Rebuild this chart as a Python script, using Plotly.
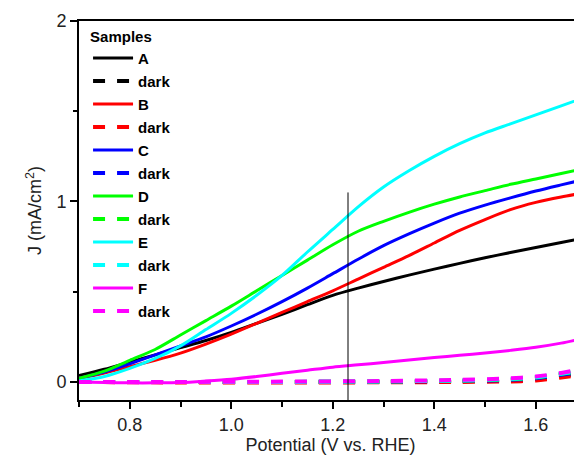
import plotly.graph_objects as go

# ---- data ----
potential = [0.70, 0.75, 0.80, 0.85, 0.90, 0.95, 1.00, 1.05, 1.10, 1.15, 1.20,
             1.25, 1.30, 1.35, 1.40, 1.45, 1.50, 1.55, 1.60, 1.65, 1.70]
j_A = [0.035, 0.07, 0.11, 0.15, 0.19, 0.23, 0.275, 0.325, 0.375, 0.428, 0.48,
       0.52, 0.557, 0.592, 0.625, 0.657, 0.688, 0.717, 0.745, 0.773, 0.80]
j_B = [0.02, 0.05, 0.085, 0.12, 0.16, 0.21, 0.265, 0.325, 0.385, 0.445, 0.505,
       0.57, 0.635, 0.70, 0.77, 0.84, 0.90, 0.955, 0.995, 1.025, 1.05]
j_C = [0.02, 0.055, 0.10, 0.15, 0.20, 0.25, 0.31, 0.375, 0.445, 0.52, 0.60,
       0.68, 0.755, 0.82, 0.88, 0.935, 0.98, 1.02, 1.058, 1.092, 1.125]
j_D = [0.02, 0.06, 0.12, 0.18, 0.26, 0.34, 0.42, 0.505, 0.59, 0.675, 0.76,
       0.835, 0.89, 0.94, 0.985, 1.025, 1.06, 1.095, 1.125, 1.155, 1.185]
j_E = [0.005, 0.03, 0.075, 0.13, 0.20, 0.29, 0.38, 0.48, 0.59, 0.72, 0.845,
       0.97, 1.08, 1.17, 1.25, 1.32, 1.38, 1.43, 1.48, 1.53, 1.58]
j_F = [0.0, -0.003, -0.005, -0.005, -0.003, 0.005, 0.015, 0.03, 0.048, 0.065, 0.082,
       0.095, 0.108, 0.122, 0.135, 0.148, 0.16, 0.175, 0.192, 0.215, 0.245]

v_dark = [0.70, 0.90, 1.10, 1.30, 1.45, 1.55, 1.60, 1.65, 1.69]
d_A = [0.0, 0.0, 0.0, 0.0, 0.004, 0.01, 0.018, 0.033, 0.048]
d_B = [0.0, -0.003, -0.003, -0.002, 0.0, 0.003, 0.008, 0.025, 0.04]
d_C = [0.0, 0.0, 0.0, 0.002, 0.006, 0.012, 0.02, 0.04, 0.055]
d_D = [0.0, 0.0, 0.0, 0.003, 0.008, 0.015, 0.025, 0.045, 0.06]
d_E = [0.0, 0.0, 0.0, 0.003, 0.008, 0.016, 0.026, 0.046, 0.062]
d_F = [0.0, 0.0, 0.002, 0.005, 0.012, 0.02, 0.03, 0.05, 0.07]

sample_names = ["A", "B", "C", "D", "E", "F"]
sample_colors = ["#000000", "#ff0000", "#0000ff", "#00ff00", "#00ffff", "#ff00ff"]
light_y = [j_A, j_B, j_C, j_D, j_E, j_F]
dark_y = [d_A, d_B, d_C, d_D, d_E, d_F]

ref_potential = 1.23
ref_top = 1.05
x_range = [0.7, 1.691]
y_range = [-0.1, 2.0]

fig = go.Figure()
for i, (name, col) in enumerate(zip(sample_names, sample_colors)):
    fig.add_trace(go.Scatter(
        x=potential, y=light_y[i], mode="lines", name=name,
        line=dict(color=col, width=3, shape="spline", smoothing=0.8),
        legendgroup=f"g{2*i}"))
    fig.add_trace(go.Scatter(
        x=v_dark, y=dark_y[i], mode="lines", name="dark",
        line=dict(color=col, width=4, dash="12px,12px", shape="spline", smoothing=0.8),
        legendgroup=f"g{2*i+1}"))

fig.add_shape(type="line", xref="x", yref="y",
              x0=ref_potential, x1=ref_potential, y0=y_range[0], y1=ref_top,
              line=dict(color="#000000", width=1))

axis_font = dict(family="Liberation Sans, Arial, sans-serif", size=18, color="#222222")
legend_font = dict(family="Liberation Sans, Arial, sans-serif", size=15, color="#000000", weight="bold")

# page body has an 8px default margin, so the figure is offset by 8px
fig.update_layout(
    width=574, height=454,
    margin=dict(l=71, r=0, t=13, b=62, autoexpand=False),
    plot_bgcolor="white", paper_bgcolor="white",
    font=dict(family="Liberation Sans, Arial, sans-serif", color="#000000"),
    showlegend=True,
    legend=dict(
        x=0.018, y=0.997, xanchor="left", yanchor="top",
        bgcolor="rgba(0,0,0,0)",
        font=legend_font,
        title=dict(text="Samples", font=legend_font),
        tracegroupgap=0.5,
        itemwidth=40,
    ),
    xaxis=dict(
        range=x_range, showline=True, linecolor="#000000", linewidth=2, mirror=True,
        automargin=False,
        ticks="outside", ticklen=7, tickwidth=1.5, tickcolor="#000000",
        tick0=0.8, dtick=0.2, tickformat=".1f",
        minor=dict(dtick=0.1, tick0=0.7, ticks="outside", ticklen=5, tickwidth=1.5, tickcolor="#000000"),
        showgrid=False, zeroline=False,
        tickfont=axis_font,
        title=dict(text="Potential (V vs. RHE)", font=axis_font, standoff=4),
    ),
    yaxis=dict(
        range=y_range, showline=True, linecolor="#000000", linewidth=2, mirror=False,
        automargin=False,
        ticks="outside", ticklen=7, tickwidth=1.5, tickcolor="#000000",
        tick0=0, dtick=1,
        minor=dict(dtick=0.5, tick0=0, ticks="outside", ticklen=4, tickwidth=1.5, tickcolor="#000000"),
        showgrid=False, zeroline=False,
        tickfont=axis_font,
        title=dict(text="J (mA/cm<sup>2</sup>)", font=axis_font, standoff=10),
    ),
)

fig.write_html("out.html")
